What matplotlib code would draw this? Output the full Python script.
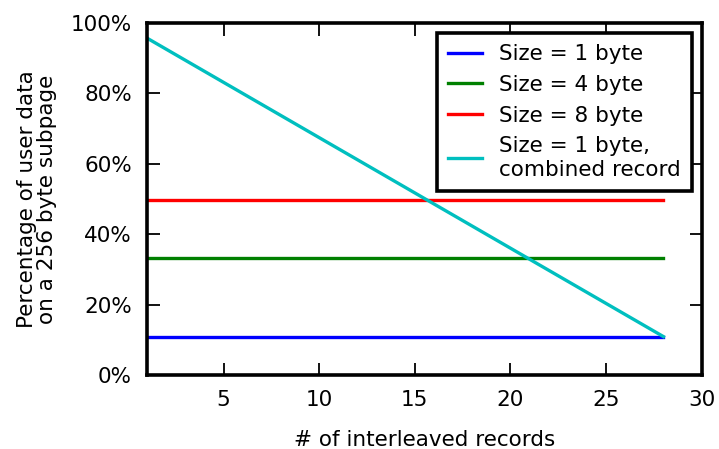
import matplotlib
matplotlib.use('Agg')
import matplotlib.pyplot as plt
from matplotlib.ticker import FuncFormatter

# data (percent of 256 byte subpage)
x_range = [1, 28]
size_1 = [10.9, 10.9]
size_4 = [33.2, 33.2]
size_8 = [49.6, 49.6]
size_1_combined = [95.7, 10.9]

labels = ['Size = 1 byte', 'Size = 4 byte', 'Size = 8 byte',
          'Size = 1 byte,\ncombined record']
colors = [(0, 0, 1), (0, 0.5, 0), (1, 0, 0), (0, 0.75, 0.75)]

plt.rcParams['font.family'] = 'DejaVu Sans'
fs = 15.5

fig = plt.figure(figsize=(7.19, 4.49), dpi=100)
ax = fig.add_axes([0.2045, 0.1648, 0.7715, 0.784])

for ys, lab, col in zip([size_1, size_4, size_8, size_1_combined], labels, colors):
    ax.plot(x_range, ys, color=col, lw=2.4, label=lab)

ax.set_xlim(1, 30)
ax.set_ylim(0, 100)
ax.set_xticks([5, 10, 15, 20, 25, 30])
ax.set_yticks([0, 20, 40, 60, 80, 100])
ax.yaxis.set_major_formatter(FuncFormatter(lambda v, p: '%d%%' % v))
ax.tick_params(direction='in', length=9, width=1.3, top=True, right=True,
               labelsize=fs, pad=11)
for s in ax.spines.values():
    s.set_linewidth(2.6)

ax.set_xlabel('# of interleaved records', fontsize=fs, labelpad=14)
ax.set_ylabel('Percentage of user data\non a 256 byte subpage', fontsize=fs,
              labelpad=10, linespacing=1.0)

leg = ax.legend(loc='upper right', fontsize=fs, fancybox=False, framealpha=1,
                handlelength=1.55, handletextpad=0.8, labelspacing=0.5,
                borderpad=0.52, borderaxespad=0, bbox_to_anchor=(0.982, 0.972))
leg.get_frame().set_edgecolor('black')
leg.get_frame().set_linewidth(2.6)

plt.savefig('out.png', dpi=100)
